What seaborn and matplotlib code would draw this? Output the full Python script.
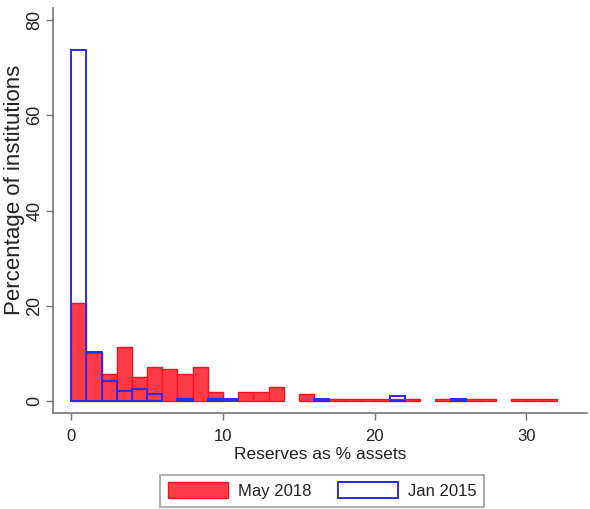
import numpy as np
import pandas as pd
import matplotlib
matplotlib.use("Agg")
import matplotlib.pyplot as plt
import seaborn as sns
from matplotlib.patches import Patch

# Bin left edges (width 1, % assets)
bin_left = list(range(0, 32))
# Percentage of institutions per bin
may_2018 = [20.5, 10.2, 5.6, 11.4, 5.1, 7.2, 6.7, 5.6, 7.2, 1.9,
            0.0, 1.9, 1.9, 2.9, 0.0, 1.5, 0.4, 0.4, 0.4, 0.4,
            0.4, 0.4, 0.4, 0.0, 0.4, 0.4, 0.4, 0.4, 0.0, 0.4,
            0.4, 0.4]
jan_2015 = [73.7, 10.3, 4.2, 2.1, 2.6, 1.4, 0.0, 0.5, 0.0, 0.5,
            0.5, 0.0, 0.0, 0.0, 0.0, 0.0, 0.5, 0.0, 0.0, 0.0,
            0.0, 1.0, 0.0, 0.0, 0.0, 0.5, 0.0, 0.0, 0.0, 0.0,
            0.0, 0.0]
x_ticks = [0, 10, 20, 30]
y_ticks = [0, 20, 40, 60, 80]

sns.set_style("white")
plt.rcParams['font.family'] = ['Liberation Sans', 'DejaVu Sans']

df = pd.DataFrame({"center": np.array(bin_left, dtype=float) + 0.5,
                   "may": may_2018, "jan": jan_2015})

fig = plt.figure(figsize=(5.9, 5.09), dpi=100)
ax = fig.add_axes([0.090, 0.189, 0.905, 0.795])

red_fill = "#ff3b48"
red_edge = "#ff1020"
blue_edge = "#2a2af0"

sns.histplot(data=df, x="center", weights="may", binwidth=1, binrange=(0, 32), ax=ax,
             color=red_fill, edgecolor=red_edge, linewidth=1.0, alpha=1.0)
sns.histplot(data=df, x="center", weights="jan", binwidth=1, binrange=(0, 32), ax=ax,
             fill=False, color=blue_edge, linewidth=1.4)

# hide empty bins (Stata draws nothing there)
for p in ax.patches:
    if p.get_height() <= 0:
        p.set_visible(False)

ax.set_xlim(-1.2, 34.0)
ax.set_ylim(-2.45, 82.5)
ax.set_xticks(x_ticks)
ax.set_yticks(y_ticks)
ax.set_xlabel("Reserves as % assets", fontsize=12.5, color="#222222", labelpad=2)
ax.set_ylabel("Percentage of institutions", fontsize=16, color="#222222")
ax.yaxis.set_label_coords(-0.052, 0.55)
ax.tick_params(axis="both", which="major", bottom=True, left=True, direction="out",
               length=5, width=1, color="#777777", labelcolor="#222222")
ax.tick_params(axis="x", labelsize=12, pad=7)
ax.tick_params(axis="y", labelsize=13, pad=2)
plt.setp(ax.get_yticklabels(), rotation=90, va="center")
for s in ["top", "right"]:
    ax.spines[s].set_visible(False)
for s in ["left", "bottom"]:
    ax.spines[s].set_color("#777777")
    ax.spines[s].set_linewidth(1.2)

handles = [Patch(facecolor=red_fill, edgecolor=red_edge, linewidth=1.0, label="May 2018"),
           Patch(facecolor="white", edgecolor=blue_edge, linewidth=1.4, label="Jan 2015")]
leg = fig.legend(handles=handles, loc="center", bbox_to_anchor=(0.546, 0.036),
                 ncol=2, fontsize=12, frameon=True, fancybox=False,
                 handlelength=3.6, handleheight=1.1, handletextpad=0.6,
                 columnspacing=1.6, borderpad=0.45, borderaxespad=0)
leg.get_frame().set_edgecolor("#888888")
leg.get_frame().set_linewidth(1.2)
for t in leg.get_texts():
    t.set_color("#222222")

fig.savefig("out.png", dpi=100)
